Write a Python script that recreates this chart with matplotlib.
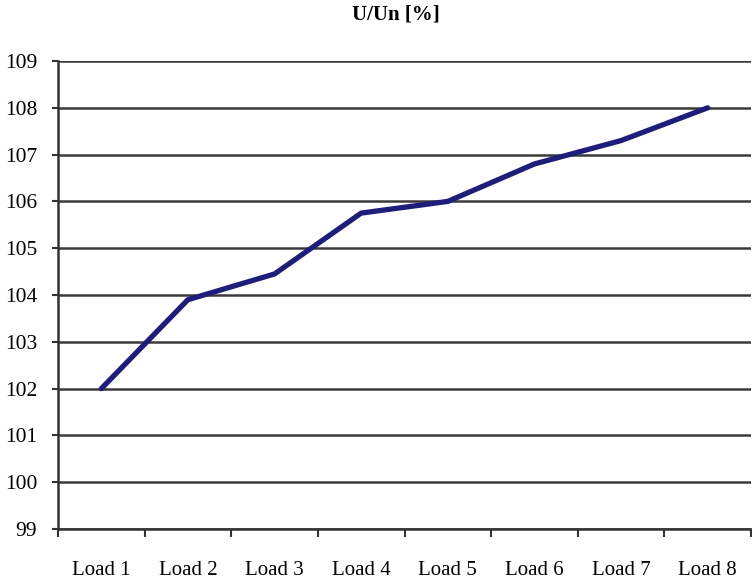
import matplotlib
matplotlib.use("Agg")
import matplotlib.pyplot as plt
import numpy as np

categories = ["Load 1", "Load 2", "Load 3", "Load 4", "Load 5", "Load 6", "Load 7", "Load 8"]
voltage_pct = [102.0, 103.9, 104.45, 105.75, 106.0, 106.8, 107.3, 108.0]
y_ticks = list(range(99, 110))

plt.rcParams["font.family"] = ["Liberation Serif", "DejaVu Serif"]

fig = plt.figure(figsize=(7.52, 5.79), dpi=100)
ax = fig.add_axes([58 / 752, 1 - 529 / 579, (751 - 58) / 752, (529 - 61) / 579])

x = np.arange(len(categories))
ax.plot(x, voltage_pct, color="#1e1e7a", linewidth=3.8, solid_joinstyle="round",
        solid_capstyle="round", zorder=3)

ax.set_xlim(-0.5, len(categories) - 0.5)
ax.set_ylim(99, 109)

# y axis: gridlines at each integer
ax.set_yticks(y_ticks)
ax.set_yticklabels([str(v) for v in y_ticks], fontsize=15.5)
ax.tick_params(axis="y", direction="out", length=4, width=1.5, color="#333333", pad=11)
ax.yaxis.grid(True, color="#3a3a3a", linewidth=1.8)
ax.set_axisbelow(True)

# x axis: tick marks between categories, labels centred on categories
ax.set_xticks(np.arange(-0.5, len(categories), 1.0))
ax.set_xticklabels([])
ax.set_xticks(x, minor=True)
ax.set_xticklabels(categories, minor=True, fontsize=15)
ax.tick_params(axis="x", which="major", direction="out", length=6, width=1.5, color="#333333")
ax.tick_params(axis="x", which="minor", length=0, pad=23)

for side in ("top", "right"):
    ax.spines[side].set_visible(False)
for side in ("left", "bottom"):
    ax.spines[side].set_color("#333333")
    ax.spines[side].set_linewidth(1.8)

fig.text(396 / 752, 1 - 15 / 579, "U/Un [%]", ha="center", va="center",
         fontsize=15, fontweight="bold")

fig.savefig("out.png", dpi=100)
